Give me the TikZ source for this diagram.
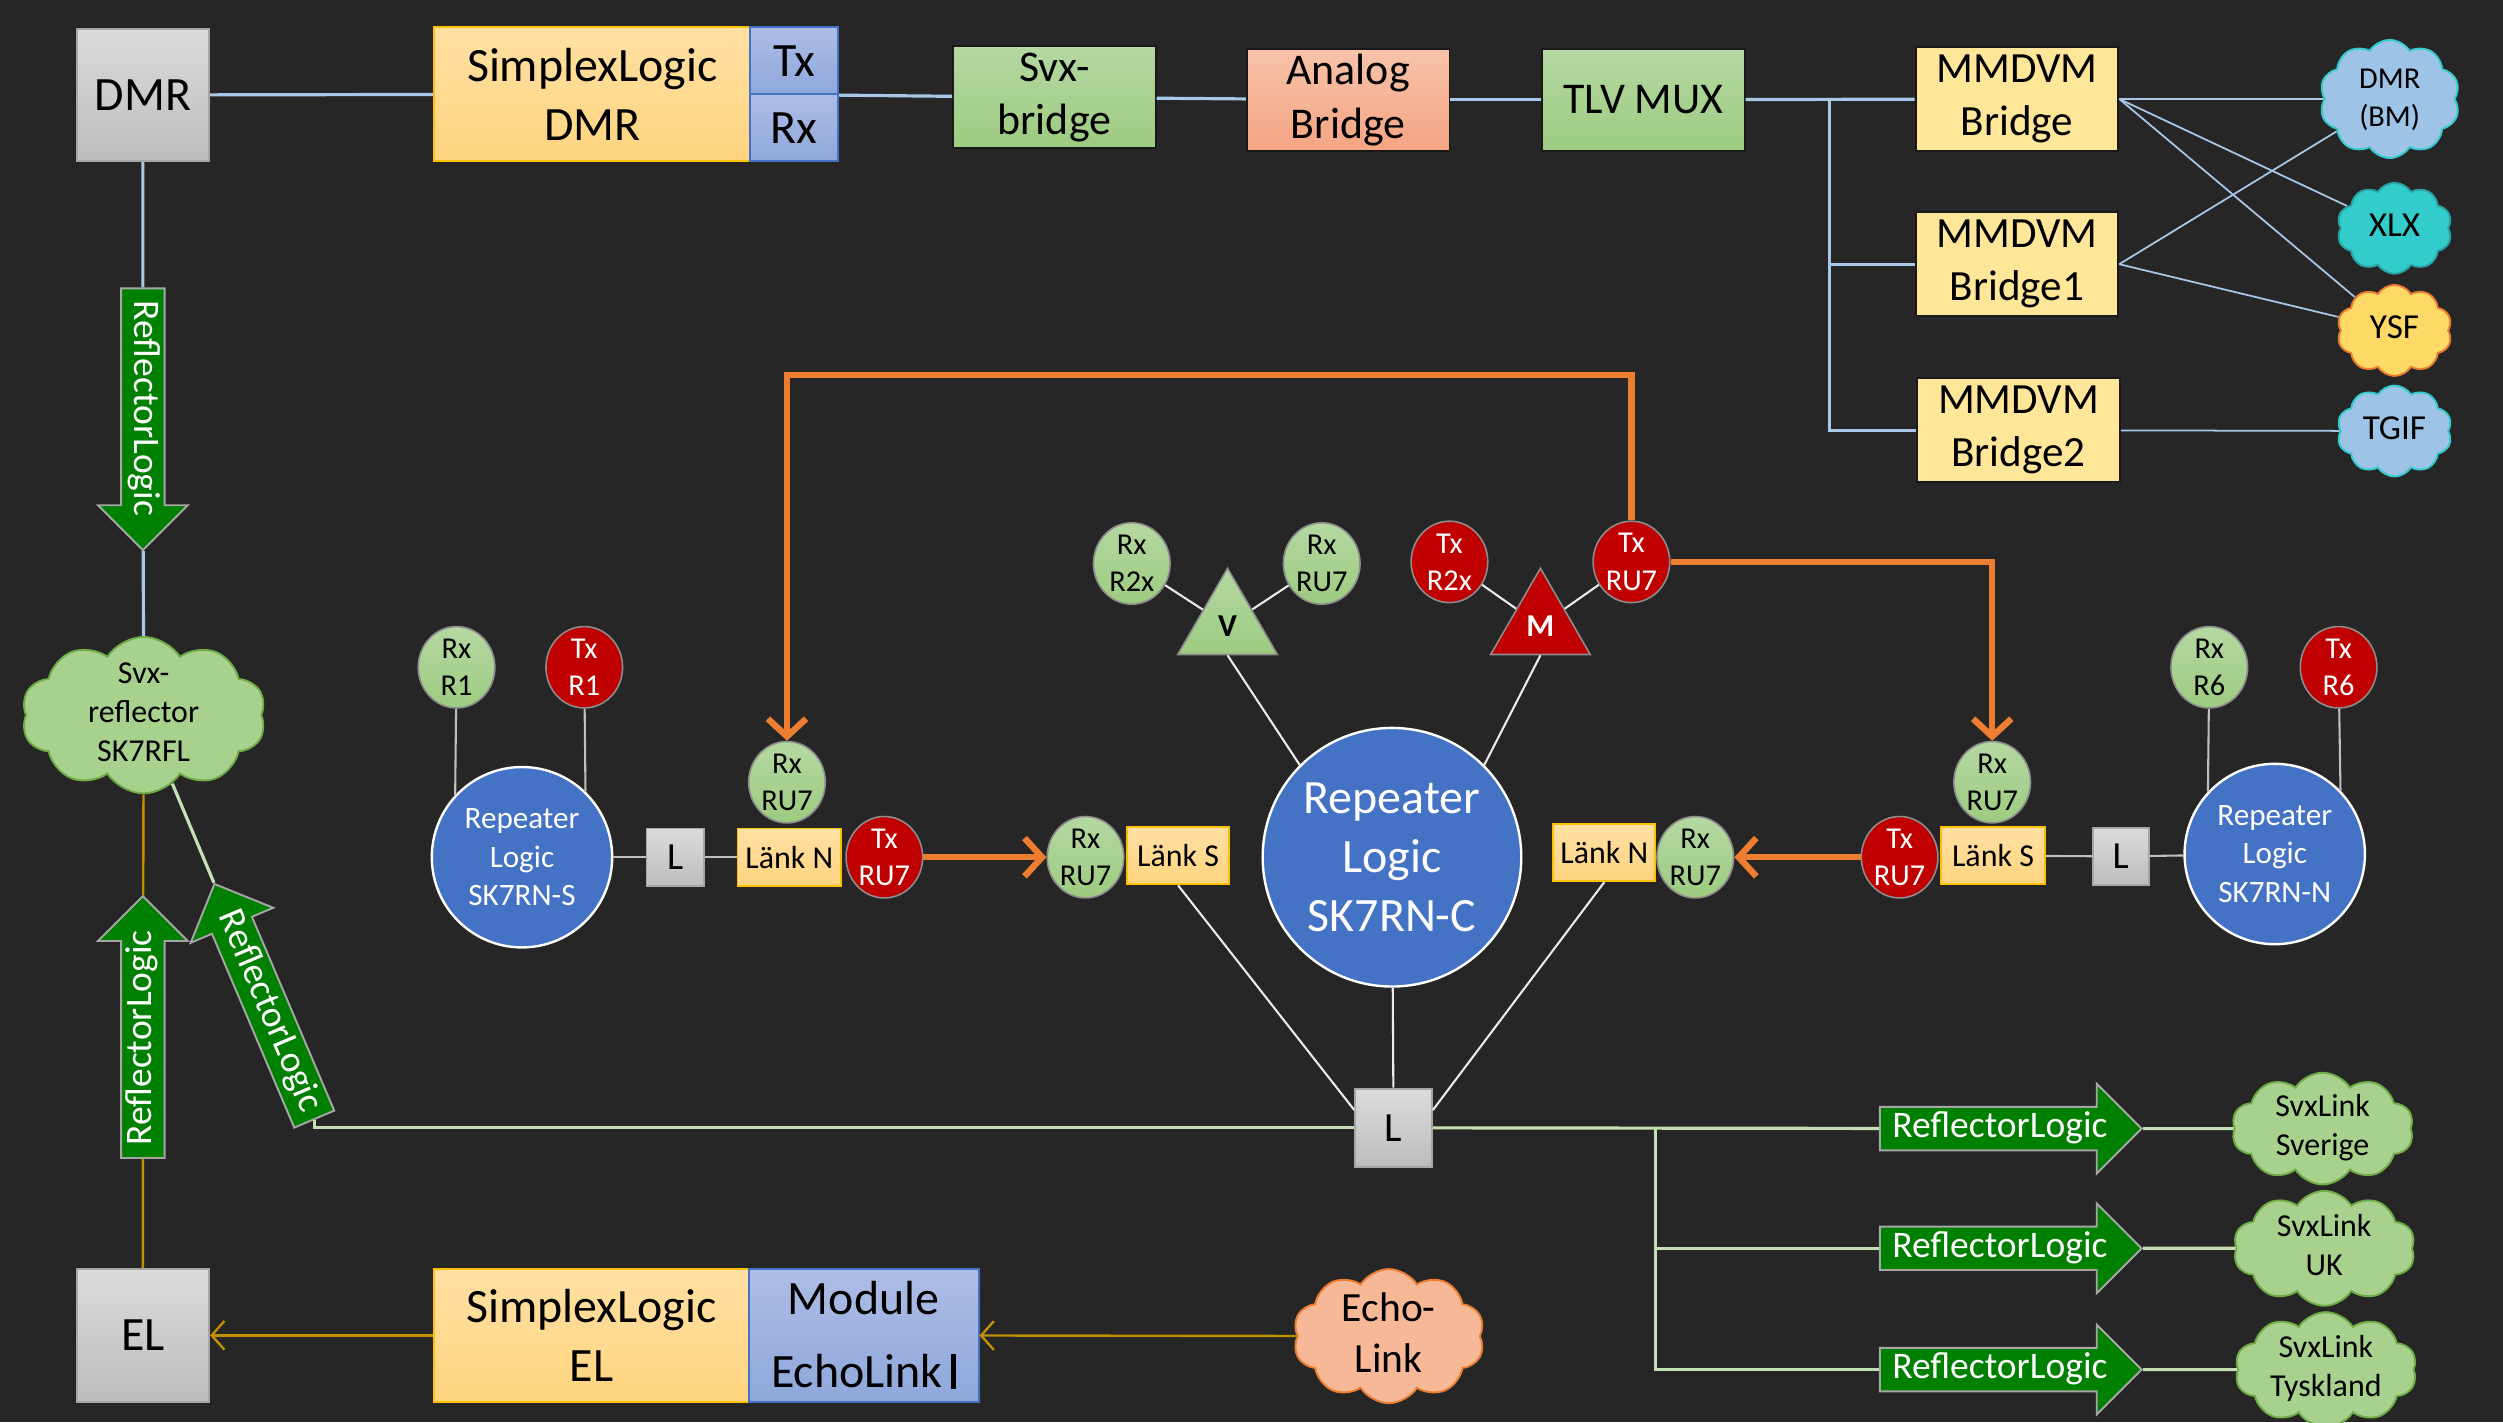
\documentclass[tikz,border=0pt]{standalone}
\usepackage{fontspec}
\setmainfont{Carlito}
\usetikzlibrary{arrows.meta,shapes.geometric,shapes.symbols,shapes.arrows}

\definecolor{bgdark}{HTML}{262626}
\definecolor{wireblue}{HTML}{A9C8E8}
\definecolor{wiregreen}{HTML}{C5E0B4}
\definecolor{wiregold}{HTML}{BF9000}
\definecolor{orangelink}{HTML}{ED7D31}
\definecolor{repblue}{HTML}{4472C4}
\definecolor{txred}{HTML}{C00000}
\definecolor{arrowgreen}{HTML}{008000}
\definecolor{greentop}{HTML}{B5D8A2}
\definecolor{greenbot}{HTML}{9DCB80}
\definecolor{yellowtop}{HTML}{FFE0A3}
\definecolor{yellowbot}{HTML}{FFD47F}
\definecolor{goldedge}{HTML}{FFC000}
\definecolor{bluetop}{HTML}{AEBDE6}
\definecolor{bluebot}{HTML}{8EA7DB}
\definecolor{salmontop}{HTML}{F8C3AA}
\definecolor{salmonbot}{HTML}{F4A482}
\definecolor{mmyellow}{HTML}{FFE699}
\definecolor{cloudblue}{HTML}{9DC3E6}
\definecolor{cloudcyan}{HTML}{33CCCC}
\definecolor{cloudyellow}{HTML}{FFD966}
\definecolor{cloudgreen}{HTML}{A9D18E}
\definecolor{cloudedge}{HTML}{70AD47}
\definecolor{cloudsalmon}{HTML}{F6B896}

\newcommand{\cloudtext}[1]{\raisebox{-.25em}[0pt][0pt]{\makebox[0pt]{\begin{tabular}{@{}c@{}}#1\end{tabular}}}}

\begin{document}
\begin{tikzpicture}[x=1pt,y=-1pt,>={Straight Barb[length=11pt,width=24pt]},
  big font/.style={font=\fontsize{30}{37}\selectfont},
  small font/.style={font=\fontsize{20}{24.5}\selectfont},
  box/.style={rectangle,draw,inner sep=0pt,align=center,line width=1.2pt},
  gray box/.style={box,big font,draw=black!35,top color=black!14,bottom color=black!26},
  logic box/.style={box,big font,draw=goldedge,top color=yellowtop,bottom color=yellowbot},
  txrx box/.style={box,big font,draw=repblue,top color=bluetop,bottom color=bluebot},
  bridge box/.style={box,font=\fontsize{27.5}{33.6}\selectfont,draw=black!90,minimum width=127pt,minimum height=64pt},
  mmdvm box/.style={box,font=\fontsize{27}{33}\selectfont,draw=black!90,fill=mmyellow,minimum width=127pt,minimum height=65pt},
  lank box/.style={box,small font,draw=goldedge,top color=yellowtop,bottom color=yellowbot,minimum width=65pt,minimum height=36pt},
  l box/.style={gray box,font=\fontsize{24}{24}\selectfont,minimum width=36pt,minimum height=36pt},
  port node/.style={ellipse,draw=black!45,line width=1pt,inner sep=0pt,
    minimum width=48pt,minimum height=51pt,align=center,font=\fontsize{19}{23.3}\selectfont},
  rx node/.style={port node,top color=greentop,bottom color=greenbot},
  tx node/.style={port node,fill=txred,text=white},
  repeater/.style={circle,draw=white,line width=1.5pt,fill=repblue,text=white,inner sep=0pt,align=center,
    minimum size=113pt,font=\fontsize{19.5}{24}\selectfont},
  mixer/.style={regular polygon,regular polygon sides=3,minimum size=72pt,inner sep=0pt,draw=black!45,line width=1pt,
    font=\fontsize{20}{20}\selectfont\bfseries},
  cloud node/.style={cloud,cloud puffs=10,cloud puff arc=115,cloud ignores aspect,inner sep=0pt,line width=1.2pt},
  green cloud/.style={cloud node,fill=cloudgreen,draw=cloudedge,font=\fontsize{20}{24.5}\selectfont},
  reflector arrow/.style={single arrow,single arrow head extend=14.5pt,fill=arrowgreen,draw=black!35,line width=1.2pt,
    text=white,font=\fontsize{23.5}{23.5}\selectfont,inner xsep=0pt,inner ysep=2.5pt,text height=16pt,text depth=5pt,
    minimum height=164pt},
  blue wire/.style={draw=wireblue,line width=2pt},
  thin wire/.style={draw=wireblue,line width=1.1pt},
  green wire/.style={draw=wiregreen,line width=2pt},
  gold wire/.style={draw=wiregold,line width=1.5pt,>={Straight Barb[length=8pt,width=18pt]}},
  white wire/.style={draw=black!8,line width=1.3pt},
  grey wire/.style={draw=black!25,line width=1.3pt},
  orange wire/.style={draw=orangelink,line width=4pt}]

  \path[use as bounding box,fill=bgdark] (0,0) rectangle (1568,891);

  % top row
  \node[gray box,minimum width=83pt,minimum height=83pt] (dmr) at (89.5,59.5) {DMR};
  \node[logic box,minimum width=198pt,minimum height=84pt] (slDMR) at (371,59) {SimplexLogic\\DMR};
  \node[txrx box,minimum width=55pt,minimum height=42pt] (txDMR) at (497.5,38) {Tx};
  \node[txrx box,minimum width=55pt,minimum height=42pt] (rxDMR) at (497.5,80) {Rx};
  \node[bridge box,top color=greentop,bottom color=greenbot] (svxbr) at (660.5,61) {Svx-\\bridge};
  \node[bridge box,top color=salmontop,bottom color=salmonbot] (analog) at (844.5,62.5) {Analog\\Bridge};
  \node[bridge box,top color=greentop,bottom color=greenbot] (mux) at (1029.5,62.5) {TLV MUX};
  \node[mmdvm box] (mmBridge) at (1263.5,62) {MMDVM\\Bridge};
  \node[mmdvm box] (mmBridgeA) at (1263.5,165.5) {MMDVM\\Bridge1};
  \node[mmdvm box] (mmBridgeB) at (1264.5,269.5) {MMDVM\\Bridge2};
  \coordinate (jm) at (1146,62);

  \node[cloud node,fill=cloudblue,draw=cloudcyan,minimum width=88pt,minimum height=74pt,font=\fontsize{19}{24}\selectfont] (dmrbm) at (1497,62) {\cloudtext{DMR\\(BM)}};
  \node[cloud node,fill=cloudcyan,draw=cloudcyan!80!black,minimum width=72pt,minimum height=57pt,font=\fontsize{22}{24}\selectfont] (xlx) at (1500,143) {\cloudtext{XLX}};
  \node[cloud node,fill=cloudyellow,draw=orangelink,minimum width=72pt,minimum height=57pt,font=\fontsize{22}{24}\selectfont] (ysf) at (1500,207) {\cloudtext{YSF}};
  \node[cloud node,fill=cloudblue,draw=cloudcyan,minimum width=72pt,minimum height=57pt,font=\fontsize{22}{24}\selectfont] (tgif) at (1500,270) {\cloudtext{TGIF}};

  \draw[blue wire] (dmr) -- (slDMR);
  \draw[blue wire] (txDMR.south east) -- (svxbr);
  \draw[blue wire] (svxbr) -- (analog);
  \draw[blue wire] (analog) -- (mux);
  \draw[blue wire] (mux) -- (mmBridge);
  \draw[blue wire] (jm) |- (mmBridgeA);
  \draw[blue wire] (jm) |- (mmBridgeB);
  \draw[thin wire] (mmBridge.east) -- (dmrbm);
  \draw[thin wire] (mmBridge.east) -- (xlx);
  \draw[thin wire] (mmBridge.east) -- (ysf);
  \draw[thin wire] (mmBridgeA.east) -- (dmrbm);
  \draw[thin wire] (mmBridgeA.east) -- (ysf);
  \draw[thin wire] (mmBridgeB) -- (tgif);

  % left column
  \node[reflector arrow,rotate=-90,anchor=tail] (rlDown) at (89.5,180) {ReflectorLogic};
  \node[green cloud,minimum width=153pt,minimum height=98pt] (svxrfl) at (90,448) {\cloudtext{Svx-\\reflector\\SK7RFL}};
  \node[reflector arrow,rotate=90,anchor=tail] (rlUp) at (89.5,726) {ReflectorLogic};
  \node[reflector arrow,rotate=-67,shape border rotate=180,minimum height=160pt,anchor=tip] (rlDiag) at (134,553) {ReflectorLogic};

  % bottom row
  \node[gray box,minimum width=83pt,minimum height=83pt] (el) at (89.5,836.5) {EL};
  \node[logic box,minimum width=197pt,minimum height=83pt] (slEL) at (370.5,836.5) {SimplexLogic\\EL};
  \node[txrx box,minimum width=144pt,minimum height=83pt,font=\fontsize{30}{46}\selectfont] (modEL) at (541,836.5) {Module\\EchoLink\,\rule[-1pt]{3.5pt}{22pt}};
  \node[cloud node,fill=cloudsalmon,draw=orangelink,minimum width=120pt,minimum height=84pt,font=\fontsize{26}{32}\selectfont] (echolink) at (870,837) {\cloudtext{Echo-\\Link}};

  \draw[blue wire] (dmr) -- (rlDown);
  \draw[blue wire] (rlDown) -- (svxrfl);
  \draw[gold wire] (svxrfl) -- (rlUp);
  \draw[gold wire] (rlUp) -- (el);
  \draw[gold wire,->] (echolink) -- (modEL);
  \draw[gold wire,->] (slEL) -- (el);

  % south repeater
  \node[rx node] (rxR1) at (286,418) {Rx\\R1};
  \node[tx node] (txR1) at (366,418) {Tx\\R1};
  \node[repeater] (repS) at (327,537) {Repeater\\Logic\\SK7RN-S};
  \node[l box] (lS) at (423,537) {L};
  \node[lank box] (lankNl) at (494.5,537) {Länk N};
  \node[rx node] (rxRU7l) at (493,490) {Rx\\RU7};
  \node[tx node] (txRU7l) at (554,537) {Tx\\RU7};

  % centre repeater
  \node[rx node] (rxRU7m) at (680,537) {Rx\\RU7};
  \node[lank box,minimum width=64pt] (lankSl) at (738,536) {Länk S};
  \node[rx node] (rxR2x) at (709,353) {Rx\\R2x};
  \node[rx node] (rxRU7v) at (828,353) {Rx\\RU7};
  \node[mixer,top color=greentop,bottom color=greenbot] (trV) at (769,392) {V};
  \node[tx node] (txR2x) at (908,352) {Tx\\R2x};
  \node[tx node] (txRU7c) at (1022,352) {Tx\\RU7};
  \node[mixer,fill=txred,text=white] (trM) at (965,392) {M};
  \node[repeater,minimum size=162pt,font=\fontsize{30}{37}\selectfont] (repC) at (872,537) {Repeater\\Logic\\SK7RN-C};
  \node[gray box,font=\fontsize{26}{26}\selectfont,minimum width=48pt,minimum height=49pt] (lCen) at (873,706.5) {L};
  \node[lank box,minimum width=64pt] (lankNr) at (1005,534) {Länk N};
  \node[rx node] (rxRU7n) at (1062,537) {Rx\\RU7};

  % north repeater
  \node[tx node] (txRU7r) at (1190,537) {Tx\\RU7};
  \node[lank box] (lankSr) at (1248.5,536) {Länk S};
  \node[rx node] (rxRU7r) at (1248,490) {Rx\\RU7};
  \node[l box,minimum width=35pt] (lN) at (1328.5,536.5) {L};
  \node[repeater] (repN) at (1425,535) {Repeater\\Logic\\SK7RN-N};
  \node[rx node] (rxR6) at (1384,418) {Rx\\R6};
  \node[tx node] (txR6) at (1465,418) {Tx\\R6};

  \draw[grey wire] (rxR1) -- (repS.137);
  \draw[grey wire] (txR1) -- (repS.46);
  \draw[grey wire] (repS) -- (lS);
  \draw[grey wire] (lS) -- (lankNl);
  \draw[white wire] (rxR2x) -- (trV);
  \draw[white wire] (rxRU7v) -- (trV);
  \draw[white wire] (txR2x) -- (trM);
  \draw[white wire] (txRU7c) -- (trM);
  \draw[white wire] (trV.south) -- (repC.135);
  \draw[white wire] (trM.south) -- (repC.45);
  \draw[white wire] (repC) -- (lCen);
  \draw[white wire] (lankSl.south) -- ([yshift=-14pt]lCen.north west);
  \draw[white wire] (lankNr.south) -- ([yshift=-14pt]lCen.north east);
  \draw[grey wire] (lankSr) -- (lN);
  \draw[grey wire] (lN) -- (repN);
  \draw[grey wire] (rxR6) -- (repN.137);
  \draw[grey wire] (txR6) -- (repN.44);

  % links between repeaters
  \coordinate (oTop) at (0,235);
  \draw[orange wire,->] (txRU7c.north) |- (rxRU7l |- oTop) -- (rxRU7l);
  \draw[orange wire,->] (txRU7c.east) -| (rxRU7r);
  \draw[orange wire,->] (txRU7l) -- (rxRU7m);
  \draw[orange wire,->] (txRU7r) -- (rxRU7n);

  % reflectors
  \node[reflector arrow,anchor=tail] (rlA) at (1177,707) {ReflectorLogic};
  \node[reflector arrow,anchor=tail] (rlB) at (1177,782) {ReflectorLogic};
  \node[reflector arrow,anchor=tail] (rlC) at (1177,858) {ReflectorLogic};
  \node[green cloud,minimum width=114pt,minimum height=70pt] (sverige) at (1455,707) {\cloudtext{SvxLink\\Sverige}};
  \node[green cloud,minimum width=114pt,minimum height=72pt] (uk) at (1456,782) {\cloudtext{SvxLink\\UK}};
  \node[green cloud,minimum width=114pt,minimum height=72pt] (tyskland) at (1457,858) {\cloudtext{SvxLink\\Tyskland}};
  \coordinate (jr) at (1037,706.5);

  \draw[green wire] (svxrfl) -- (rlDiag.tip);
  \draw[green wire] (rlDiag.tail) |- (lCen);
  \draw[green wire] (lCen) -- (rlA);
  \draw[green wire] (jr) |- (rlB);
  \draw[green wire] (jr) |- (rlC);
  \draw[green wire] (rlA) -- (sverige);
  \draw[green wire] (rlB) -- (uk);
  \draw[green wire] (rlC) -- (tyskland);
\end{tikzpicture}
\end{document}
